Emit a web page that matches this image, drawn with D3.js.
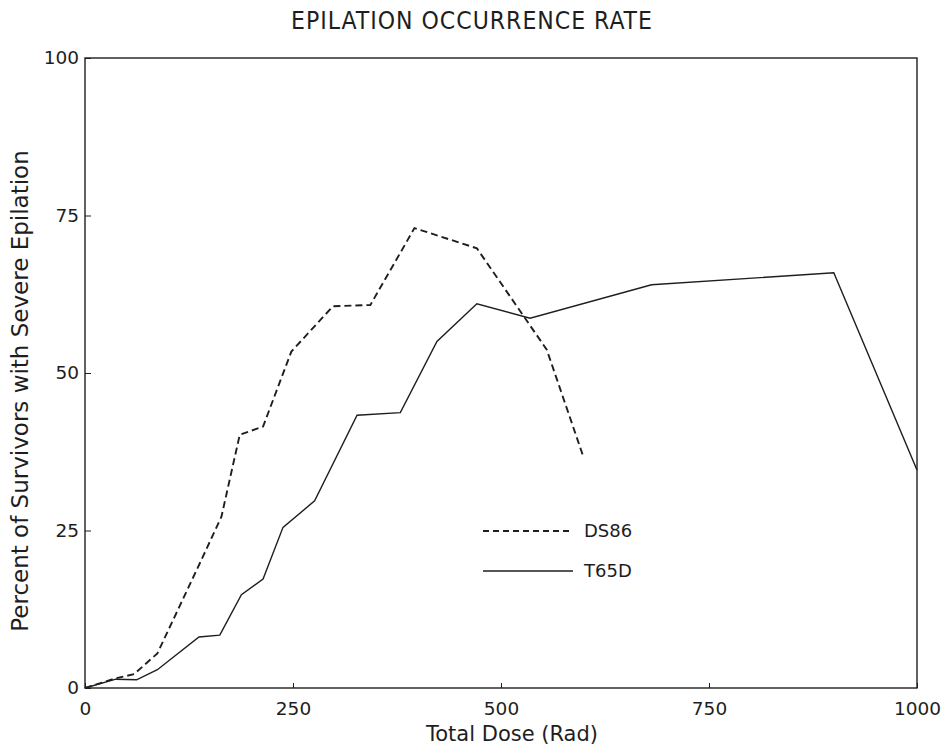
<!DOCTYPE html>
<html>
<head>
<meta charset="utf-8">
<script src="https://cdn.jsdelivr.net/npm/d3@7"></script>
<style>
  body { margin: 0; background: #fff; }
  text { fill: #1e1e1e; }
</style>
</head>
<body>
<svg id="chart" width="943" height="748"></svg>
<script>
const ds86Dose = [0, 36, 59, 87, 138, 164, 186, 214, 248, 298, 343, 396, 471, 555, 599];
const ds86Rate = [0, 1.5, 2.2, 5.5, 19.8, 27.2, 40.2, 41.5, 53.4, 60.6, 60.8, 73.0, 69.8, 53.7, 36.7];
const t65dDose = [0, 37, 62, 87, 137, 162, 188, 214, 238, 276, 327, 379, 423, 471, 535, 681, 900, 1000];
const t65dRate = [0, 1.4, 1.3, 2.9, 8.1, 8.4, 14.8, 17.3, 25.5, 29.7, 43.3, 43.7, 55.0, 61.0, 58.7, 64.0, 65.9, 34.6];
const xTicks = [0, 250, 500, 750, 1000];
const yTicks = [0, 25, 50, 75, 100];
const seriesNames = ["DS86", "T65D"];

const svg = d3.select("#chart");
const pLeft = 85, pRight = 917, pTop = 58, pBottom = 688;
const x = d3.scaleLinear().domain([0, 1000]).range([pLeft, pRight]);
const y = d3.scaleLinear().domain([0, 100]).range([pBottom, pTop]);
const font = "'DejaVu Sans', Verdana, sans-serif";
const ink = "#1e1e1e";

// frame
svg.append("rect").attr("x", pLeft).attr("y", pTop)
  .attr("width", pRight - pLeft).attr("height", pBottom - pTop)
  .attr("fill", "none").attr("stroke", ink).attr("stroke-width", 1.4);

// axes
const xAxis = d3.axisBottom(x).tickValues(xTicks).tickFormat(d3.format("d"))
  .tickSizeInner(-5).tickSizeOuter(0).tickPadding(14);
const gx = svg.append("g").attr("transform", `translate(0,${pBottom})`).call(xAxis);
gx.select(".domain").remove();
gx.selectAll("line").attr("stroke", ink);
gx.selectAll("text").attr("font-family", font).attr("font-size", 18.5).attr("fill", ink);

const yAxis = d3.axisLeft(y).tickValues(yTicks).tickFormat(d3.format("d"))
  .tickSizeInner(-6).tickSizeOuter(0).tickPadding(6);
const gy = svg.append("g").attr("transform", `translate(${pLeft},0)`).call(yAxis);
gy.select(".domain").remove();
gy.selectAll("line").attr("stroke", ink);
gy.selectAll("text").attr("font-family", font).attr("font-size", 18.5).attr("fill", ink);

// lines
const line = d3.line().x(d => x(d[0])).y(d => y(d[1]));
const ds86 = ds86Dose.map((d, i) => [d, ds86Rate[i]]);
const t65d = t65dDose.map((d, i) => [d, t65dRate[i]]);

svg.append("path").datum(t65d).attr("d", line)
  .attr("fill", "none").attr("stroke", ink).attr("stroke-width", 1.4);
svg.append("path").datum(ds86).attr("d", line)
  .attr("fill", "none").attr("stroke", ink).attr("stroke-width", 1.9)
  .attr("stroke-dasharray", "7,4");

// legend
const leg = [
  { name: seriesNames[0], dash: "6,4", w: 1.9 },
  { name: seriesNames[1], dash: null, w: 1.4 }
];
leg.forEach((l, i) => {
  const yy = i === 0 ? 531 : 571;
  svg.append("line").attr("x1", 483).attr("x2", 573).attr("y1", yy).attr("y2", yy)
    .attr("stroke", ink).attr("stroke-width", l.w)
    .attr("stroke-dasharray", l.dash);
  svg.append("text").attr("x", 584).attr("y", yy).attr("dy", "0.36em")
    .attr("font-family", font).attr("font-size", 18).text(l.name);
});

// titles
svg.append("text").attr("x", 472).attr("y", 29).attr("text-anchor", "middle")
  .attr("font-family", "'DejaVu Sans Condensed', 'Liberation Sans Narrow', sans-serif")
  .attr("font-size", 24.5).attr("letter-spacing", 1).text("EPILATION OCCURRENCE RATE");
svg.append("text").attr("x", 512).attr("y", 741).attr("text-anchor", "middle")
  .attr("font-family", font).attr("font-size", 21).text("Total Dose (Rad)");
svg.append("text").attr("transform", "translate(28,391) rotate(-90)").attr("text-anchor", "middle")
  .attr("font-family", font).attr("font-size", 23).text("Percent of Survivors with Severe Epilation");
</script>
</body>
</html>
